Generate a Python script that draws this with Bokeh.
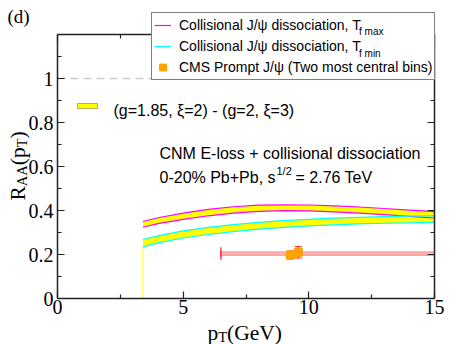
import math
from bokeh.plotting import figure
from bokeh.models import (Range1d, LinearAxis, FixedTicker, CustomJSTickFormatter, Legend,
                          LegendItem, Label, BoxAnnotation, Whisker, TeeHead, ColumnDataSource)
from bokeh.embed import file_html
from bokeh.resources import INLINE

# ---------------- data ----------------
pt = [3.4, 4, 5, 6, 7, 8, 9, 10, 11, 12, 13, 14, 15]
tfmax_hi = [0.350, 0.367, 0.388, 0.405, 0.417, 0.424, 0.426, 0.425, 0.421, 0.416, 0.409, 0.402, 0.395]
tfmax_lo = [0.324, 0.340, 0.360, 0.376, 0.388, 0.396, 0.399, 0.398, 0.394, 0.388, 0.381, 0.373, 0.366]
tfmin_hi = [0.268, 0.285, 0.307, 0.323, 0.336, 0.346, 0.354, 0.360, 0.365, 0.369, 0.372, 0.374, 0.376]
tfmin_lo = [0.235, 0.253, 0.275, 0.291, 0.304, 0.315, 0.323, 0.330, 0.335, 0.339, 0.342, 0.344, 0.346]

cms_pt = [9.27, 9.58]
cms_raa = [0.198, 0.210]
cms_err = [0.018, 0.026]
cms_pt_lo = [6.5, 6.5]
cms_pt_hi = [30.0, 30.0]

x_major = [0, 5, 10, 15]
x_minor = [2.5, 7.5, 12.5]
y_major = [0, 0.2, 0.4, 0.6, 0.8, 1.0]
y_minor = [0.1, 0.3, 0.5, 0.7, 0.9, 1.1]
ref_level = 1.0

# ---------------- layout ----------------
W, H = 468, 344                      # canvas
BL, BT, BW, BH = 57, 34, 377, 264    # axes box in canvas pixels
XMIN, XMAX = 0.0, 15.0
YMIN, YMAX = 0.0, 1.2
KX = BW / (XMAX - XMIN)
KY = BH / (YMAX - YMIN)

def dx(px):
    return XMIN + (px - BL) / KX

def dy(py):
    return YMIN + (BT + BH - py) / KY

# the frame covers the whole canvas; axes are pinned to the box with fixed_location
p = figure(frame_width=W, frame_height=H,
           x_range=Range1d(dx(0), dx(W)), y_range=Range1d(dy(H), dy(0)),
           x_axis_location=None, y_axis_location=None,
           output_backend="svg", toolbar_location=None,
           min_border=0)
p.outline_line_color = None
p.xgrid.visible = False
p.ygrid.visible = False
p.background_fill_color = "white"
p.border_fill_color = "white"

AX = "#222222"

def make_axis(dim_major, dim_minor, loc, bounds, show_labels):
    ax = LinearAxis(ticker=FixedTicker(ticks=dim_major, minor_ticks=dim_minor),
                    fixed_location=loc, bounds=bounds)
    ax.axis_line_color = AX
    ax.axis_line_width = 1.5
    ax.major_tick_line_color = AX
    ax.minor_tick_line_color = AX
    ax.major_tick_line_width = 1.2
    ax.minor_tick_line_width = 1.2
    ax.major_tick_in = 7
    ax.major_tick_out = 0
    ax.minor_tick_in = 4
    ax.minor_tick_out = 0
    ax.major_label_text_font = "Liberation Serif"
    ax.major_label_text_font_size = "20px"
    ax.major_label_text_color = "black"
    if not show_labels:
        ax.major_label_text_color = None
    return ax

xb = make_axis(x_major, x_minor, YMIN, (XMIN, XMAX), True)
xb.major_label_standoff = 1
yl = make_axis(y_major, y_minor, XMIN, (YMIN, YMAX), True)
yl.major_label_standoff = 4
yl.formatter = CustomJSTickFormatter(code="return tick.toString();")
xt = make_axis(x_major, x_minor, YMAX, (XMIN, XMAX), False)
yr = make_axis(y_major, y_minor, XMAX, (YMIN, YMAX), False)
p.add_layout(xb, "below")
p.add_layout(yl, "left")
p.add_layout(xt, "above")
p.add_layout(yr, "right")

# dashed reference line at R_AA = 1
p.line(x=[XMIN, XMAX], y=[ref_level, ref_level], line_color="#cccccc", line_width=1.5, line_dash="8 5")

# ---------------- bands ----------------
YEL = "#ffff00"
p.varea(x=pt, y1=tfmin_lo, y2=tfmin_hi, fill_color=YEL)
p.varea(x=pt, y1=tfmax_lo, y2=tfmax_hi, fill_color=YEL)
p.segment(x0=[pt[0]], y0=[YMIN], x1=[pt[0]], y1=[tfmin_lo[0]], line_color=YEL, line_width=1)
r_max = p.line(pt, tfmax_hi, line_color="#ff00ff", line_width=1.2)
p.line(pt, tfmax_lo, line_color="#ff00ff", line_width=1.2)
r_min = p.line(pt, tfmin_hi, line_color="#00ffff", line_width=1.2)
p.line(pt, tfmin_lo, line_color="#00ffff", line_width=1.2)

# ---------------- CMS data ----------------
src = ColumnDataSource(dict(
    x=cms_pt, y=cms_raa,
    ylo=[v - e for v, e in zip(cms_raa, cms_err)],
    yhi=[v + e for v, e in zip(cms_raa, cms_err)],
    xlo=cms_pt_lo, xhi=[min(v, XMAX) for v in cms_pt_hi]))
p.segment(x0="xlo", y0="y", x1="xhi", y1="y", source=src, line_color="#ff5a5a", line_alpha=0.55, line_width=2.2)
p.scatter(x="xlo", y="y", source=src, marker="dash", angle=math.pi / 2, size=10,
          line_color="#ff3040", line_width=1.2)
p.add_layout(Whisker(source=src, base="x", lower="ylo", upper="yhi", dimension="height",
                     line_color="#ff2020", line_width=1,
                     upper_head=TeeHead(size=7, line_color="#ff2020", line_width=1),
                     lower_head=TeeHead(size=7, line_color="#ff2020", line_width=1)))
r_cms = p.scatter(x="x", y="y", source=src, marker="square", size=8,
                  fill_color="#ffa500", line_color="#ff9a00")

# ---------------- legend ----------------
legend = Legend(items=[
    LegendItem(label="Collisional J/\u03c8 dissociation, T", renderers=[r_max]),
    LegendItem(label="Collisional J/\u03c8 dissociation, T", renderers=[r_min]),
    LegendItem(label="CMS Prompt J/\u03c8 (Two most central bins)", renderers=[r_cms]),
], location=(151, H - 80))
legend.border_line_color = "black"
legend.border_line_width = 1
legend.background_fill_color = "white"
legend.background_fill_alpha = 1.0
legend.padding = 2
legend.spacing = 1
legend.margin = 0
legend.glyph_width = 17
legend.glyph_height = 20
legend.label_height = 20
legend.label_standoff = 8
legend.label_text_font = "Liberation Sans"
legend.label_text_font_size = "14px"
legend.label_text_color = "black"
p.add_layout(legend)

# subscripts of the legend labels: a second, transparent legend drawn on top
r_blank = p.line(x=[], y=[], line_alpha=0)
sub_legend = Legend(items=[
    LegendItem(label="f max", renderers=[r_blank]),
    LegendItem(label="f min", renderers=[r_blank]),
], location=(358, H - 63.5))
sub_legend.border_line_color = None
sub_legend.background_fill_alpha = 0
sub_legend.padding = 0
sub_legend.spacing = 2
sub_legend.margin = 0
sub_legend.glyph_width = 1
sub_legend.glyph_height = 20
sub_legend.label_height = 20
sub_legend.label_standoff = 0
sub_legend.label_text_font = "Liberation Sans"
sub_legend.label_text_font_size = "10px"
sub_legend.label_text_color = "black"
p.add_layout(sub_legend)

def lab(text, px, py, size, font="Liberation Sans", angle=0.0):
    p.add_layout(Label(x=dx(px), y=dy(py), text=text, text_font=font,
                       text_font_size=f"{size}px", angle=angle, text_align="left",
                       text_baseline="alphabetic", text_color="black", level="overlay"))

# band key
p.add_layout(BoxAnnotation(left=dx(77), right=dx(97), bottom=dy(108), top=dy(103),
                           fill_color=YEL, fill_alpha=1, line_color="black", line_width=1))
lab("(g=1.85, \u03be=2) - (g=2, \u03be=3)", 113, 110, 16)

lab("CNM E-loss + collisional dissociation", 159, 153, 16)
lab("0-20% Pb+Pb, s", 159, 177, 16)
lab("1/2", 276, 170, 11)
lab("= 2.76 TeV", 295, 177, 16)

# panel tag
SERIF = "Liberation Serif"
lab("(d)", 7, 16, 19, font=SERIF)

# x axis label
lab("p", 207, 332, 21.5, font=SERIF)
lab("T", 217.75, 336, 14.5, font=SERIF)
lab("(GeV)", 226.6, 332, 21.5, font=SERIF)

# y axis label (rotated)
A = math.pi / 2
lab("R", 17, 200, 21.5, font=SERIF, angle=A)
lab("AA", 21, 185.66, 14.5, font=SERIF, angle=A)
lab("(p", 17, 164.72, 21.5, font=SERIF, angle=A)
lab("T", 21, 146.81, 14.5, font=SERIF, angle=A)
lab(")", 17, 137.95, 21.5, font=SERIF, angle=A)

open("out.html", "w").write(file_html(p, INLINE))
